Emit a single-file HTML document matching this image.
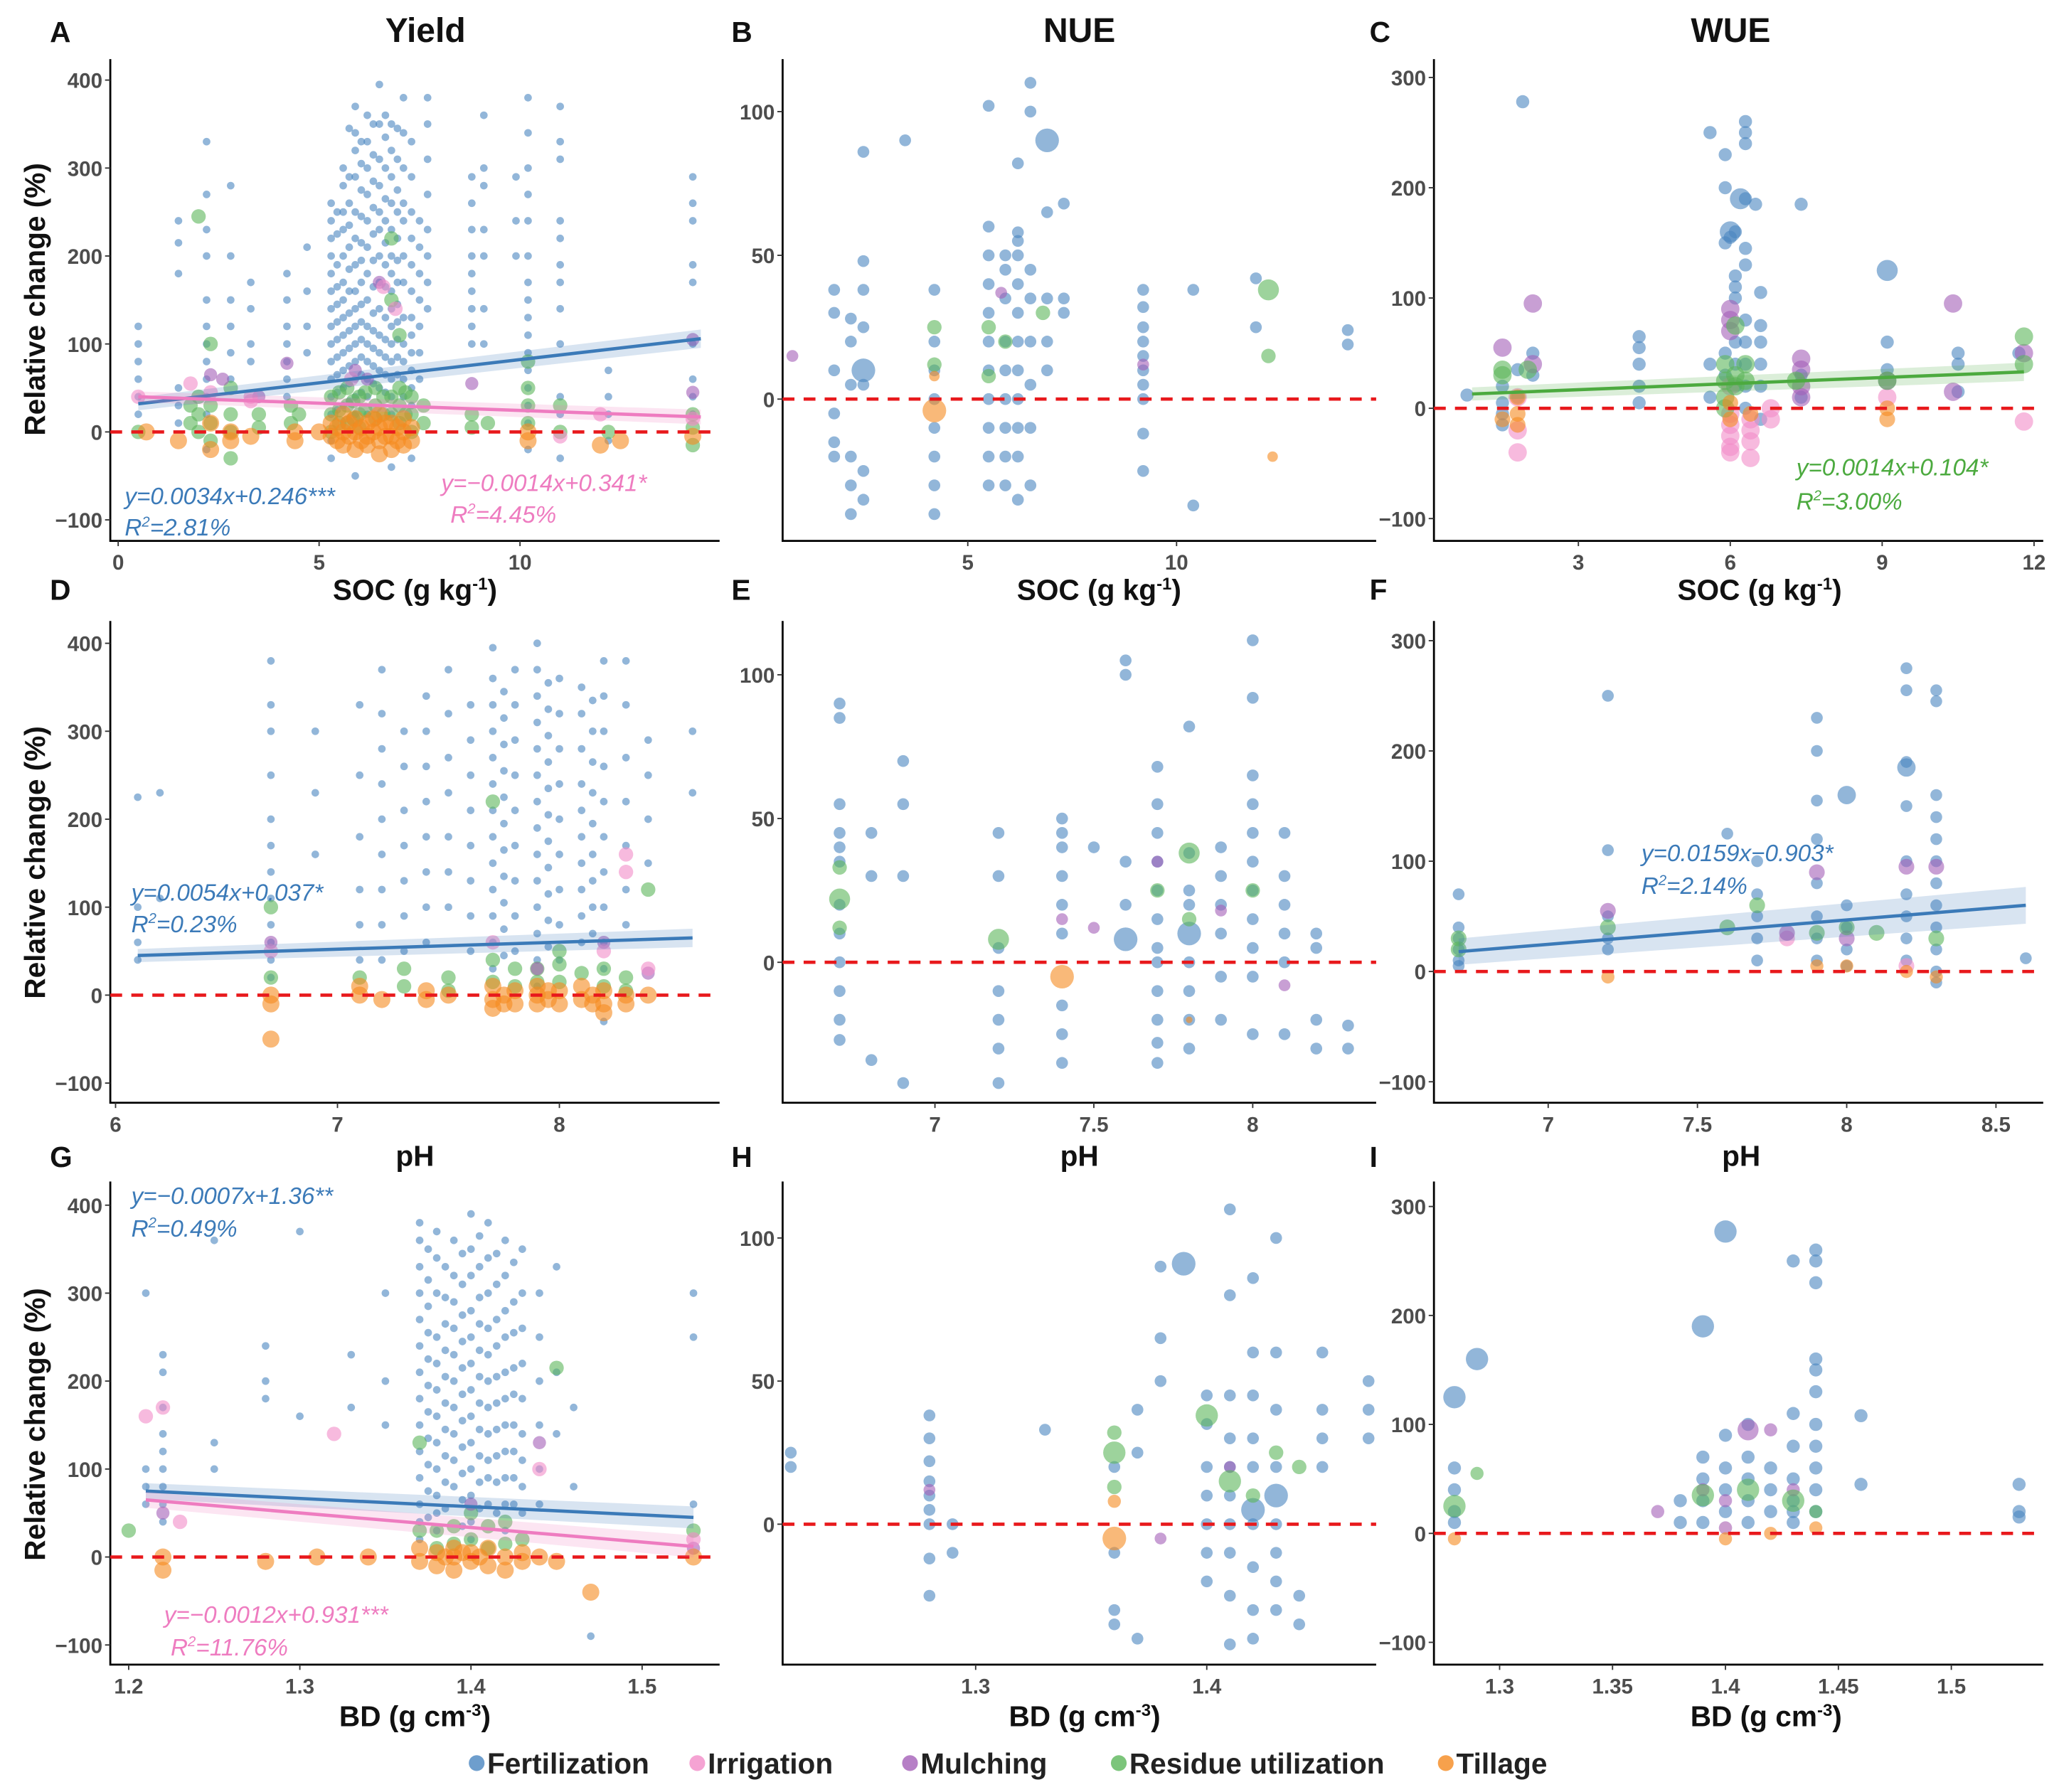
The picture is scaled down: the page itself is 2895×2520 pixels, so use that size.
<!DOCTYPE html>
<html><head><meta charset="utf-8">
<style>
html,body{margin:0;padding:0;background:#fff;}
svg{display:block;}
text{font-family:"Liberation Sans",sans-serif;}
.tick{font-size:16px;font-weight:bold;fill:#4d4d4d;}
.ttl{font-size:26px;font-weight:bold;fill:#111;}
.lab{font-size:22px;font-weight:bold;fill:#111;}
.let{font-size:22px;font-weight:bold;fill:#111;}
.ann{font-size:18px;font-style:italic;}
.leg{font-size:22px;font-weight:bold;fill:#222;}
</style></head>
<body>
<svg id="fig" width="2895" height="2520" viewBox="0 0 1568 1365" preserveAspectRatio="none" xmlns="http://www.w3.org/2000/svg">
<g id="layer"></g>
</svg>
<script>
// ---------- data (columns: [x, [y values]]) ----------
const aFert=[[0.5,[120,100,80,60,40,20]],[1.5,[240,215,180,50,30,10]],[2.2,[330,270,230,200,150,120,100,80,60,40,20,-20]],[2.8,[280,200,150,120,90,60]],[3.3,[170,140,100,80]],[4.2,[180,150,120,100,80,60,40]],[4.7,[210,160,120,90]],[5.3,[260,240,220,200,180,160,140,120,100,80,60,40,20,-10,-30]],[5.45,[250,225,190,165,145,125,105,85,65,45,25]],[5.6,[300,280,250,230,200,170,150,130,110,90,70,50,30]],[5.75,[345,290,260,235,210,185,160,135,115,95,75,55,35]],[5.9,[370,340,320,290,250,220,190,160,140,120,100,80,60,40,20,-50]],[6.05,[330,305,275,245,215,195,170,145,125,105,85,65,45]],[6.2,[360,330,300,270,240,210,180,150,120,100,80,60,40,20]],[6.35,[350,315,285,255,225,195,165,135,115,95,75,55]],[6.5,[395,350,310,280,250,230,200,170,140,110,90,70,50]],[6.65,[360,335,300,265,240,215,190,165,130,105,85,65,45]],[6.8,[350,320,290,260,230,200,180,160,140,120,100,80,60,40,20,-40]],[6.95,[345,310,275,250,220,195,170,145,125,105,85,65]],[7.1,[380,340,300,260,240,200,170,130,100,80,60,40]],[7.3,[330,290,250,220,190,160,130,110,90,70,50,30,-30]],[7.5,[240,210,180,150,120,90,60]],[7.7,[380,350,310,270,230,200,170,140]],[8.8,[290,260,230,200,180,160,140,120,100]],[9.1,[360,300,280,230,200,140,100]],[9.9,[290,240,200]],[10.2,[380,340,300,270,240,200,170,150,130,110,90,70,50,30,10,-20]],[11.0,[370,330,310,240,220,190,170,140,100,40,20,-30]],[12.2,[70,40,20,-10]],[14.3,[290,260,240,190,170,100,60,40,20]]];
const aIrr=[[0.5,[40]],[1.8,[55]],[2.3,[45]],[3.3,[40,35]],[5.8,[60]],[6.6,[165]],[6.9,[140]],[11.0,[-5]],[12.0,[20]],[14.3,[15]]];
const aMul=[[2.3,[65]],[2.6,[60]],[3.5,[40]],[4.2,[78]],[5.9,[70]],[6.2,[60]],[6.5,[170]],[8.8,[55]],[14.3,[105,45]]];
const aRes=[[0.5,[0]],[1.8,[30,10]],[2.0,[245,40,20,0]],[2.3,[100,30,10,-10]],[2.8,[50,20,0,-30]],[3.5,[20,5]],[4.3,[30,10]],[4.5,[20]],[5.3,[40,20,0]],[5.5,[45,25,10]],[5.7,[50,30,10]],[5.85,[35,15]],[6.0,[40,20,5]],[6.15,[45,25]],[6.4,[50,30,15]],[6.6,[40,20]],[6.8,[220,150,40,20]],[7.0,[110,50,30,10]],[7.15,[45,20]],[7.3,[40,20,0]],[7.6,[30,10]],[8.8,[20,5]],[9.2,[10]],[10.2,[80,50,30,10]],[11.0,[30,0]],[12.2,[0]],[14.3,[20,5,-15]]];
const aTil=[[0.7,[0]],[1.5,[-10]],[2.3,[10,-20]],[2.8,[0,-10]],[3.3,[-5]],[4.4,[-10,0]],[5.0,[0]],[5.3,[10,-5]],[5.45,[5,-10]],[5.6,[20,0,-15]],[5.75,[10,-5]],[5.9,[15,0,-20]],[6.05,[5,-10]],[6.2,[10,-5,-15]],[6.35,[15,0]],[6.5,[20,5,-10,-25]],[6.65,[10,-5]],[6.8,[10,-5,-20]],[6.95,[5,-10]],[7.1,[15,0,-15]],[7.3,[5,-10]],[10.2,[0,-10]],[12.0,[-15]],[12.5,[-10]],[14.3,[-5]]];

const bFert=[[1.8,[38,30,10,-5,-15,-20]],[2.2,[28,20,5,-20,-30,-40]],[2.5,[86,48,38,25,5,-25,-35]],[3.5,[90]],[4.2,[38,20,10,0,-10,-20,-30,-40]],[5.5,[102,60,50,40,30,20,10,0,-10,-20,-30]],[5.9,[50,45,35,20,10,0,-10,-20,-30]],[6.2,[82,58,55,50,40,30,20,10,0,-10,-20,-35]],[6.5,[110,100,45,35,20,5,-10,-30]],[6.9,[65,35,20,10]],[7.3,[68,35,30]],[9.2,[38,32,25,20,15,10,5,0,-12,-25]],[10.4,[38,-37]],[11.9,[42,25]],[14.1,[24,19]]];
const bFertBig=[[2.5,[10]],[6.9,[90]]];
const bMul=[[0.8,[15]],[5.8,[37]],[9.2,[12]]];
const bRes=[[4.2,[25,12]],[5.5,[25,8]],[5.9,[20]],[6.8,[30]],[12.2,[15]]];
const bResBig=[[12.2,[38]]];
const bTil=[[4.2,[8]],[12.3,[-20]]];
const bTilBig=[[4.2,[-4]]];

const cFert=[[0.8,[12]],[1.5,[20,5,-5,-15]],[1.9,[278]],[1.8,[35,10]],[2.1,[50,30]],[4.2,[65,55,40,20,5]],[5.6,[250,40,10]],[5.9,[230,200,150,50,30]],[6.1,[160,120,110,100,60,40,20]],[6.3,[260,250,240,190,145,130,80,60,40,20,0]],[6.0,[155]],[6.6,[105,75,60,40,20,-10]],[6.5,[185]],[7.4,[185,30,10]],[9.1,[60,35]],[10.5,[50,40,15]],[11.7,[50]]];
const cFertBig=[[9.1,[125]],[6.2,[190]],[6.0,[160]]];
const cIrr=[[1.8,[-20,-40,10]],[6.0,[-5,-15,-25,-35,-40,20]],[6.4,[-10,-20,-30,-45]],[6.8,[0,-10]],[9.1,[10]],[11.8,[-12]]];
const cMul=[[1.5,[55]],[2.1,[95,40]],[6.0,[90,80,70]],[7.4,[45,35,20,10]],[9.1,[25]],[10.4,[95,15]],[11.8,[50]]];
const cRes=[[1.5,[35,30]],[2.0,[35]],[5.9,[40,25,10,0]],[6.1,[30,20,75]],[6.3,[40,25]],[7.3,[25]],[9.1,[25]],[11.8,[65,40]]];
const cTil=[[1.5,[-10]],[1.8,[10,-5,-15]],[6.0,[-10,5]],[6.4,[-5]],[9.1,[-10,0]]];

const dFert=[[6.1,[225,100,60,40]],[6.2,[230,110]],[6.7,[380,330,300,250,200,170,140,110,80,60,40,20]],[6.9,[300,230,160]],[7.1,[330,250,180,120,80,40]],[7.2,[370,320,280,240,200,160,120,80,40]],[7.3,[300,260,210,170,130,90,50]],[7.4,[340,300,260,220,180,140,100,60]],[7.5,[370,320,270,230,180,140,100]],[7.6,[330,290,250,210,170,130,90,50]],[7.7,[395,360,330,300,270,240,210,180,150,120,90,60,30]],[7.75,[345,315,285,255,225,195,165,135,105,75,45]],[7.8,[370,330,290,250,210,170,130,90,50]],[7.9,[400,370,340,310,280,250,220,190,160,130,100,70,40,10]],[7.95,[355,325,295,265,235,205,175,145,115,85,55]],[8.0,[360,320,280,240,200,160,120,80,40]],[8.1,[350,320,280,240,210,180,150,120,90,60]],[8.15,[335,300,265,230,195,160,130,100,70]],[8.2,[380,340,300,260,220,180,140,100,60,30,-30]],[8.3,[380,330,270,220,170,120,80]],[8.4,[290,250,200,150]],[8.6,[300,230]]];
const dIrr=[[6.7,[50]],[7.7,[60]],[8.2,[50]],[8.3,[160,140]],[8.4,[30]]];
const dMul=[[6.7,[60]],[7.9,[30]],[8.2,[60]],[8.4,[25]]];
const dRes=[[6.7,[100,20]],[7.1,[20]],[7.3,[30,10]],[7.5,[20,5]],[7.7,[220,40,15]],[7.8,[30,10]],[7.9,[30,15]],[8.0,[35,50,15]],[8.1,[25]],[8.2,[30,10]],[8.3,[20,5]],[8.4,[120]]];
const dTil=[[6.7,[-50,0,-10]],[7.1,[0,10]],[7.2,[-5]],[7.4,[5,-5]],[7.5,[0]],[7.7,[10,-5,-15]],[7.75,[0,-10]],[7.8,[5,-10]],[7.9,[10,0,-10]],[7.95,[5,-5]],[8.0,[5,-10]],[8.1,[10,-5]],[8.15,[0,-10]],[8.2,[5,-10,-20]],[8.3,[0,-10]],[8.4,[0]]];

const eFert=[[6.7,[90,85,55,45,40,35,20,10,0,-10,-20,-27]],[6.8,[45,30,-34]],[6.9,[70,55,30,-42]],[7.2,[45,30,5,-10,-20,-30,-42]],[7.4,[50,45,40,30,20,10,-15,-25,-35]],[7.5,[40]],[7.6,[105,100,35,20]],[7.7,[68,55,45,35,25,15,5,0,-10,-20,-28,-35]],[7.8,[82,38,25,20,0,-10,-20,-30]],[7.9,[40,30,20,10,-5,-20]],[8.0,[112,92,65,55,45,35,25,15,5,-5,-25]],[8.1,[45,30,20,10,0,-25]],[8.2,[10,5,-20,-30]],[8.3,[-22,-30]]];
const eFertBig=[[7.6,[8]],[7.8,[10]]];
const eMul=[[7.4,[15]],[7.5,[12]],[7.7,[35]],[7.9,[18]],[8.1,[-8]]];
const eRes=[[6.7,[33,12]],[7.7,[25]],[7.8,[15]],[8.0,[25]]];
const eResBig=[[6.7,[22]],[7.2,[8]],[7.8,[38]]];
const eTil=[[7.8,[-20]]];
const eTilBig=[[7.4,[-5]]];

const fFert=[[6.7,[70,40,30,20,10,5]],[7.2,[250,110,50,30,20]],[7.6,[125]],[7.7,[100,70,50,30,10]],[7.9,[230,200,155,120,80,50,30,10]],[8.0,[60,40,20,5]],[8.2,[275,255,190,150,100,70,50,30,10]],[8.3,[255,245,160,140,120,100,80,60,40,20,0,-10]],[8.6,[12]]];
const fFertBig=[[8.0,[160]],[8.2,[185]]];
const fIrr=[[7.8,[30]],[8.2,[5]]];
const fMul=[[7.2,[55]],[7.8,[35]],[7.9,[90]],[8.0,[30]],[8.2,[95]],[8.3,[95]]];
const fRes=[[6.7,[30,20]],[7.2,[40]],[7.6,[40]],[7.7,[60]],[7.9,[35]],[8.0,[40]],[8.1,[35]],[8.3,[30]]];
const fTil=[[7.2,[-5]],[7.9,[5]],[8.0,[5]],[8.2,[0]],[8.3,[-5]]];

const gFert=[[1.21,[300,100,80,60]],[1.22,[230,210,170,140,120,100,80,60,40]],[1.25,[360,130,100]],[1.28,[240,200,180]],[1.3,[370,160]],[1.33,[230,170]],[1.35,[300,200,150]],[1.37,[380,360,330,300,270,240,210,180,150,120,90,60,40,20]],[1.375,[350,315,285,255,225,195,165,135,105,75,45]],[1.38,[370,340,300,250,220,190,160,130,100,70,50,30]],[1.385,[330,295,265,235,205,175,145,115,85,55]],[1.39,[360,320,290,260,230,200,170,140,110,80]],[1.395,[345,310,275,245,215,185,155,125,95,65,35]],[1.40,[390,350,320,280,250,220,190,160,130,100,70,40,20]],[1.405,[365,330,295,265,235,205,175,145,115,85,55]],[1.41,[380,340,300,260,230,200,170,140,110,90,60]],[1.415,[345,310,270,240,205,175,145,115,85,50]],[1.42,[360,320,280,250,210,180,150,120,90,60,30]],[1.425,[335,290,255,215,185,150,120,90,60]],[1.43,[350,300,260,220,180,140,110,80,50]],[1.44,[300,250,200,150,100,60]],[1.45,[330,210,140]],[1.46,[170,80]],[1.47,[-90]],[1.53,[300,250,60]]];
const gIrr=[[1.21,[160]],[1.22,[170]],[1.23,[40]],[1.32,[140]],[1.44,[100]],[1.53,[20]]];
const gMul=[[1.22,[50]],[1.40,[60]],[1.44,[130]],[1.53,[10]]];
const gRes=[[1.20,[30]],[1.37,[130,30]],[1.38,[30,10]],[1.39,[35,15]],[1.40,[50,20]],[1.41,[35,10]],[1.42,[40,15]],[1.43,[20]],[1.45,[215]],[1.53,[30]]];
const gTil=[[1.22,[0,-15]],[1.28,[-5]],[1.31,[0]],[1.34,[0]],[1.37,[10,-5]],[1.38,[5,-10]],[1.385,[0]],[1.39,[10,0,-15]],[1.395,[5]],[1.40,[5,-5]],[1.405,[0]],[1.41,[10,-10]],[1.42,[0,-15]],[1.43,[5,-5]],[1.44,[0]],[1.45,[-5]],[1.47,[-40]],[1.53,[0]]];

const hFert=[[1.22,[25,20]],[1.28,[38,30,22,15,10,5,0,-12,-25]],[1.29,[0,-10]],[1.33,[33]],[1.36,[20,-10,-30,-35]],[1.37,[40,25,-40]],[1.38,[90,65,50]],[1.40,[45,35,20,10,0,-10,-20]],[1.41,[110,80,45,30,20,10,0,-10,-25,-42]],[1.42,[86,60,45,30,20,0,-15,-30,-40]],[1.43,[100,60,40,20,0,-10,-20,-30]],[1.44,[-25,-35]],[1.45,[60,40,30,20]],[1.47,[50,40,30]]];
const hFertBig=[[1.43,[10]],[1.42,[5]],[1.39,[91]]];
const hMul=[[1.28,[12]],[1.38,[-5]],[1.41,[20]]];
const hRes=[[1.36,[32,13]],[1.42,[10]],[1.43,[25]],[1.44,[20]]];
const hResBig=[[1.36,[25]],[1.40,[38]],[1.41,[15]]];
const hTil=[[1.36,[8]]];
const hTilBig=[[1.36,[-5]]];

const iFert=[[1.28,[60,40,20,10]],[1.38,[30,10]],[1.39,[70,50,30,10]],[1.40,[90,60,40,20,5]],[1.41,[100,70,50,30,10]],[1.42,[60,40,20]],[1.43,[250,110,80,50,30,20,10]],[1.44,[260,250,230,160,150,130,100,80,60,40,20]],[1.46,[108,45]],[1.53,[45,20,15]]];
const iFertBig=[[1.28,[125]],[1.29,[160]],[1.39,[190]],[1.40,[277]]];
const iIrr=[[1.40,[5]]];
const iMul=[[1.37,[20]],[1.39,[40]],[1.40,[30]],[1.42,[95]],[1.43,[40]]];
const iMulBig=[[1.41,[95]]];
const iRes=[[1.29,[55]],[1.44,[20]]];
const iResBig=[[1.28,[25]],[1.39,[35]],[1.41,[40]],[1.43,[30]]];
const iTil=[[1.28,[-5]],[1.40,[-5]],[1.42,[0]],[1.44,[5]]];

// regression lines: [x0,y0,x1,y1]
const aBlueFit=[0.5,32,14.5,106];
const aPinkFit=[0.5,40,14.5,17];
const cGreenFit=[0.9,13,11.8,33];
const dBlueFit=[6.1,45,8.6,65];
const fBlueFit=[6.7,18,8.6,60];
const gBlueFit=[1.21,75,1.53,45];
const gPinkFit=[1.21,65,1.53,12];

const yYieldTicks=[-100,0,100,200,300,400];
const yNueTicks=[0,50,100];
const yWueTicks=[-100,0,100,200,300];

// ---------- layout ----------
const C={fert:'#4a86c0',irr:'#f28cc8',mul:'#a45fb8',res:'#5bb65a',til:'#f58a1f'};
const NS='http://www.w3.org/2000/svg';
const layer=document.getElementById('layer');
function el(tag,attrs,parent){const e=document.createElementNS(NS,tag);for(const k in attrs)e.setAttribute(k,attrs[k]);(parent||layer).appendChild(e);return e;}
function lin(v0,p0,v1,p1){return v=>p0+(v-v0)*(p1-p0)/(v1-v0);}
function fmt(v){return v<0?'\u2212'+(-v):String(v);}

function panel(id,L,R,T,B,xs,ys,xticks,yticks){
  const g=el('g',{});
  
  
  const p={g,L,R,T,B,X:lin(...xs),Y:lin(...ys)};
  const ax=el('path',{d:`M${L},${T}V${B}H${R}`,stroke:'#000','stroke-width':1.5,fill:'none'},g);
  
  
  xticks.forEach(v=>{const x=p.X(v);
    el('line',{x1:x,x2:x,y1:B,y2:B+4,stroke:'#333','stroke-width':1},g);
    const t=el('text',{x:x,y:B+22,'text-anchor':'middle',class:'tick'},g);t.textContent=String(v);
    
    });
  yticks.forEach(v=>{const y=p.Y(v);
    el('line',{x1:L-4,x2:L,y1:y,y2:y,stroke:'#333','stroke-width':1},g);
    const t=el('text',{x:L-6,y:y+6,'text-anchor':'end',class:'tick'},g);t.textContent=fmt(v);
    
    });
  p.pts=el('g',{},g);
  
  
  return p;
}
function pts(p,cols,color,r,name){
  cols.forEach(([x,ys])=>ys.forEach(y=>{
    const c=el('circle',{cx:p.X(x),cy:p.Y(y),r:r,fill:color,'fill-opacity':0.6},p.pts);
    
    
  }));
}
function zero(p){
  const l=el('line',{x1:p.L,x2:p.R,y1:p.Y(0),y2:p.Y(0),stroke:'#e8191c','stroke-width':2.5,'stroke-dasharray':'9,7'},p.g);
  
  
}
function fit(p,f,color,band,name){
  const [x0,y0,x1,y1]=f;
  const X0=p.X(x0),X1=p.X(x1),A0=p.Y(y0),A1=p.Y(y1);
  const b=el('path',{d:`M${X0},${A0-band}L${X1},${A1-band*1.4}L${X1},${A1+band*1.4}L${X0},${A0+band}Z`,fill:color,'fill-opacity':0.2},p.g);
  
  
  const l=el('line',{x1:X0,y1:A0,x2:X1,y2:A1,stroke:color,'stroke-width':2.5},p.g);
  
  
}
function txt(x,y,s,cls,name,extra){
  const t=el('text',Object.assign({x:x,y:y,class:cls},extra||{}));
  t.innerHTML=s;
  
  
  return t;
}

const A=panel('A',84,548,45,412,[0,90,5,243],[0,329,100,262],[0,5,10],yYieldTicks);
const Bp=panel('B',596,1048,45,412,[5,737,10,896],[0,304,100,85],[5,10],yNueTicks);
const Cp=panel('C',1092,1556,45,412,[3,1202,12,1549],[0,311,100,227],[3,6,9,12],yWueTicks);
const D=panel('D',84,548,473,840,[6,88,8,426],[0,758,100,691],[6,7,8],yYieldTicks);
const E=panel('E',596,1048,473,840,[7,712,8,954],[0,733,100,514],[7,7.5,8],yNueTicks);
const F=panel('F',1092,1556,473,840,[7,1179,8.5,1520],[0,740,100,656],[7,7.5,8,8.5],yWueTicks);
const G=panel('G',84,548,900,1268,[1.2,98,1.5,489],[0,1186,100,1119],[1.2,1.3,1.4,1.5],yYieldTicks);
const H=panel('H',596,1048,900,1268,[1.3,743,1.4,919],[0,1161,100,943],[1.3,1.4],yNueTicks);
const I=panel('I',1092,1556,900,1268,[1.3,1142,1.5,1486],[0,1168,100,1085],[1.3,1.35,1.4,1.45,1.5],yWueTicks);

// yield panels
[[A,aFert,aIrr,aMul,aRes,aTil],[D,dFert,dIrr,dMul,dRes,dTil],[G,gFert,gIrr,gMul,gRes,gTil]].forEach(([p,f,i,m,r,t])=>{
  pts(p,f,C.fert,2.9,'fertilization-point');
  pts(p,r,C.res,5.5,'residue-point');
  pts(p,m,C.mul,5,'mulching-point');
  pts(p,i,C.irr,5.5,'irrigation-point');
  pts(p,t,C.til,6.5,'tillage-point');
  zero(p);
});
// NUE / WUE panels
pts(Bp,bFert,C.fert,4.5,'fertilization-point');pts(Bp,bFertBig,C.fert,9,'fertilization-point');
pts(Bp,bMul,C.mul,4.5,'mulching-point');pts(Bp,bRes,C.res,5.5,'residue-point');pts(Bp,bResBig,C.res,8,'residue-point');
pts(Bp,bTil,C.til,4,'tillage-point');pts(Bp,bTilBig,C.til,9,'tillage-point');zero(Bp);

pts(Cp,cFert,C.fert,5,'fertilization-point');pts(Cp,cFertBig,C.fert,8,'fertilization-point');
pts(Cp,cIrr,C.irr,7,'irrigation-point');pts(Cp,cMul,C.mul,7,'mulching-point');
pts(Cp,cRes,C.res,7,'residue-point');pts(Cp,cTil,C.til,6,'tillage-point');zero(Cp);

pts(E,eFert,C.fert,4.5,'fertilization-point');pts(E,eFertBig,C.fert,9,'fertilization-point');
pts(E,eMul,C.mul,4.5,'mulching-point');pts(E,eRes,C.res,5.5,'residue-point');pts(E,eResBig,C.res,8,'residue-point');
pts(E,eTil,C.til,2.5,'tillage-point');pts(E,eTilBig,C.til,9,'tillage-point');zero(E);

pts(F,fFert,C.fert,4.5,'fertilization-point');pts(F,fFertBig,C.fert,7,'fertilization-point');
pts(F,fIrr,C.irr,6,'irrigation-point');pts(F,fMul,C.mul,6,'mulching-point');
pts(F,fRes,C.res,6,'residue-point');pts(F,fTil,C.til,5,'tillage-point');zero(F);

pts(H,hFert,C.fert,4.5,'fertilization-point');pts(H,hFertBig,C.fert,9,'fertilization-point');
pts(H,hMul,C.mul,4.5,'mulching-point');pts(H,hRes,C.res,5.5,'residue-point');pts(H,hResBig,C.res,8.5,'residue-point');
pts(H,hTil,C.til,5,'tillage-point');pts(H,hTilBig,C.til,9,'tillage-point');zero(H);

pts(I,iFert,C.fert,5,'fertilization-point');pts(I,iFertBig,C.fert,8.5,'fertilization-point');
pts(I,iIrr,C.irr,5,'irrigation-point');pts(I,iMul,C.mul,5,'mulching-point');pts(I,iMulBig,C.mul,8,'mulching-point');
pts(I,iRes,C.res,5,'residue-point');pts(I,iResBig,C.res,8.5,'residue-point');pts(I,iTil,C.til,5,'tillage-point');zero(I);

fit(A,aBlueFit,'#3b7ab8',5,'fertilization-fit-line');
fit(A,aPinkFit,'#ee7cc0',4,'irrigation-fit-line');
fit(Cp,cGreenFit,'#4caa3f',5,'residue-fit-line');
fit(D,dBlueFit,'#3b7ab8',5,'fertilization-fit-line');
fit(F,fBlueFit,'#3b7ab8',10,'fertilization-fit-line');
fit(G,gBlueFit,'#3b7ab8',6,'fertilization-fit-line');
fit(G,gPinkFit,'#ee7cc0',6,'irrigation-fit-line');

// titles & letters
txt(324,32,'Yield','ttl','title-yield',{'text-anchor':'middle'});
txt(822,32,'NUE','ttl','title-nue',{'text-anchor':'middle'});
txt(1318,32,'WUE','ttl','title-wue',{'text-anchor':'middle'});
[['A',38,32],['B',557,32],['C',1043,32],['D',38,457],['E',557,457],['F',1043,457],['G',38,889],['H',557,889],['I',1043,889]].forEach(([s,x,y])=>txt(x,y,s,'let','panel-letter-'+s.toLowerCase()));
// y titles
[228,657,1085].forEach((cy,k)=>txt(34,cy,'Relative change (%)','lab','y-axis-title',{'text-anchor':'middle',transform:`rotate(-90 34 ${cy})`}));
// x titles
const soc='SOC (g kg<tspan dy="-8" font-size="13">-1</tspan><tspan dy="8">)</tspan>';
const bd='BD (g cm<tspan dy="-8" font-size="13">-3</tspan><tspan dy="8">)</tspan>';
[316,837,1340].forEach(x=>txt(x,457,soc,'lab','x-axis-title-soc',{'text-anchor':'middle'}));
[316,822,1326].forEach(x=>txt(x,888,'pH','lab','x-axis-title-ph',{'text-anchor':'middle'}));
[316,826,1345].forEach(x=>txt(x,1315,bd,'lab','x-axis-title-bd',{'text-anchor':'middle'}));
// annotations
txt(95,384,'y=0.0034x+0.246***','ann','equation-a-fertilization',{fill:'#3b7ab8'});
txt(95,408,'R<tspan dy="-7" font-size="11">2</tspan><tspan dy="7">=2.81%</tspan>','ann','r2-a-fertilization',{fill:'#3b7ab8'});
txt(336,374,'y=\u22120.0014x+0.341*','ann','equation-a-irrigation',{fill:'#ee7cc0'});
txt(343,398,'R<tspan dy="-7" font-size="11">2</tspan><tspan dy="7">=4.45%</tspan>','ann','r2-a-irrigation',{fill:'#ee7cc0'});
txt(1368,362,'y=0.0014x+0.104*','ann','equation-c-residue',{fill:'#4caa3f'});
txt(1368,388,'R<tspan dy="-7" font-size="11">2</tspan><tspan dy="7">=3.00%</tspan>','ann','r2-c-residue',{fill:'#4caa3f'});
txt(100,686,'y=0.0054x+0.037*','ann','equation-d-fertilization',{fill:'#3b7ab8'});
txt(100,710,'R<tspan dy="-7" font-size="11">2</tspan><tspan dy="7">=0.23%</tspan>','ann','r2-d-fertilization',{fill:'#3b7ab8'});
txt(1250,656,'y=0.0159x\u22120.903*','ann','equation-f-fertilization',{fill:'#3b7ab8'});
txt(1250,681,'R<tspan dy="-7" font-size="11">2</tspan><tspan dy="7">=2.14%</tspan>','ann','r2-f-fertilization',{fill:'#3b7ab8'});
txt(100,917,'y=\u22120.0007x+1.36**','ann','equation-g-fertilization',{fill:'#3b7ab8'});
txt(100,942,'R<tspan dy="-7" font-size="11">2</tspan><tspan dy="7">=0.49%</tspan>','ann','r2-g-fertilization',{fill:'#3b7ab8'});
txt(125,1236,'y=\u22120.0012x+0.931***','ann','equation-g-irrigation',{fill:'#ee7cc0'});
txt(130,1261,'R<tspan dy="-7" font-size="11">2</tspan><tspan dy="7">=11.76%</tspan>','ann','r2-g-irrigation',{fill:'#ee7cc0'});
// legend
const legend=el('g',{});


[[363,C.fert,'Fertilization'],[531,C.irr,'Irrigation'],[693,C.mul,'Mulching'],[852,C.res,'Residue utilization'],[1101,C.til,'Tillage']].forEach(([x,c,s])=>{
  const g=el('g',{},legend);
  
  
  el('circle',{cx:x,cy:1343,r:6,fill:c,'fill-opacity':0.8},g);
  const t=el('text',{x:x+8,y:1351,class:'leg'},g);t.textContent=s;
});
</script>
</body></html>
